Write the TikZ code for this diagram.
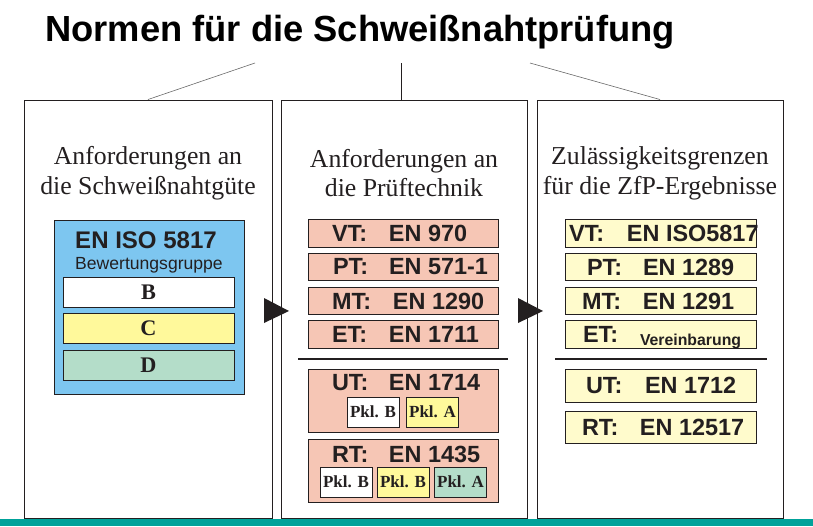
\documentclass[tikz,border=0pt]{standalone}
\usepackage{fontspec}
\setmainfont{Liberation Serif}
\setsansfont{Liberation Sans}
\usetikzlibrary{positioning}
\definecolor{inkblack}{HTML}{231F20}
\definecolor{skyblue}{HTML}{7DC6F0}
\definecolor{softyellow}{HTML}{FFF99B}
\definecolor{softgreen}{HTML}{B4DDC9}
\definecolor{salmon}{HTML}{F6C6B5}
\definecolor{cream}{HTML}{FFFBCC}
\definecolor{barteal}{HTML}{00A29A}
\tikzset{
    frame/.style = {draw=inkblack, line width=0.8pt, minimum height=12.54cm, inner sep=0pt},
    heading/.style = {align=center, text=inkblack, font=\rmfamily\fontsize{22}{25.5}\selectfont},
    gradebox/.style = {draw=inkblack, line width=0.7pt, minimum width=5.13cm, minimum height=0.88cm,
        inner sep=0pt, text=inkblack, font=\rmfamily\bfseries\fontsize{19}{22}\selectfont},
    normbox/.style = {draw=inkblack, line width=0.7pt, minimum width=5.7cm, minimum height=0.82cm,
        inner sep=0pt, text=inkblack, font=\sffamily\bfseries\fontsize{20}{24}\selectfont},
    limitbox/.style = {normbox, fill=cream, minimum width=5.73cm},
    pklbox/.style = {draw=inkblack, line width=0.7pt, minimum width=1.56cm, minimum height=0.9cm,
        inner sep=0pt, text=inkblack, font=\rmfamily\bfseries\fontsize{14.5}{17}\selectfont},
    separator/.style = {draw=inkblack, line width=1.3pt},
}
% box width, label offset, label width, label, norm
\newcommand{\normline}[5]{\makebox[#1][l]{\hspace*{#2}\makebox[#3][l]{#4}#5}}
\newcommand{\pkl}[1]{\raisebox{-2pt}{Pkl. #1}}

\begin{document}
\begin{tikzpicture}[x=0.03cm, y=-0.03cm]
    \useasboundingbox (0,0) rectangle (813,526);

    \node[anchor=base, text=black, font=\sffamily\bfseries\fontsize{31}{36}\selectfont] (title) at (360,41)
        {Normen für die Schweißnahtprüfung};

    % three columns
    \node[frame, minimum width=7.44cm] (quality) at (148,309) {};
    \node[frame, minimum width=7.38cm] (technique) at (404,309) {};
    \node[frame, minimum width=7.38cm] (limits) at (660,309) {};

    \coordinate (tl) at (255,63);
    \coordinate (tm) at (401,63);
    \coordinate (tr) at (530,63);
    \draw[gray!80!black, line width=0.5pt] (tl) -- (quality.north);
    \draw[inkblack, line width=0.5pt] (tm) -- (tm |- technique.north);
    \draw[gray!80!black, line width=0.5pt] (tr) -- (limits.north);

    \node[heading] (quality head) at (148,173) {Anforderungen an\\die Schweißnahtgüte};
    \node[heading] (technique head) at (404,173) {Anforderungen an\\die Prüftechnik};
    \node[heading] (limits head) at (660,173) {Zulässigkeitsgrenzen\\für die ZfP-Ergebnisse};

    % left column
    \node[draw=inkblack, line width=0.7pt, fill=skyblue, minimum width=5.7cm, minimum height=5.22cm] (iso) at (149,307) {};
    \node[text=inkblack, font=\sffamily\bfseries\fontsize{20.5}{24}\selectfont] (iso name) at (146,240) {EN ISO 5817};
    \node[text=inkblack, font=\sffamily\fontsize{15}{18}\selectfont] (iso sub) at (149,265) {Bewertungsgruppe};
    \node[gradebox, fill=white] (grade b) at (148.5,292.5) {B};
    \node[gradebox, fill=softyellow] (grade c) at (148.5,328.5) {C};
    \node[gradebox, fill=softgreen] (grade d) at (148.5,365.5) {D};

    \fill[inkblack] (264,298) -- (289,311) -- (264,323) -- cycle;
    \fill[inkblack] (518,298) -- (543,311) -- (518,323) -- cycle;

    % middle column
    \node[normbox, fill=salmon] (vt) at (403,233.5) {\normline{5.7cm}{0.72cm}{1.71cm}{VT:}{EN 970}};
    \node[normbox, fill=salmon] (pt) at (403,267) {\normline{5.7cm}{0.75cm}{1.68cm}{PT:}{EN 571-1}};
    \node[normbox, fill=salmon] (mt) at (403,301) {\normline{5.7cm}{0.72cm}{1.83cm}{MT:}{EN 1290}};
    \node[normbox, fill=salmon] (et) at (403,334.5) {\normline{5.7cm}{0.72cm}{1.71cm}{ET:}{EN 1711}};
    \draw[separator] (298,359) -- (508,359);
    \node[normbox, fill=salmon, minimum height=1.89cm] (ut) at (403,400.5) {};
    \node[normbox, draw=none] (ut text) at (403,383) {\normline{5.7cm}{0.72cm}{1.71cm}{UT:}{EN 1714}};
    \node[pklbox, fill=white] (ut b) at (373,412) {\pkl{B}};
    \node[pklbox, fill=softyellow] (ut a) at (432.5,412) {\pkl{A}};
    \node[normbox, fill=salmon, minimum height=1.89cm] (rt) at (403,470.5) {};
    \node[normbox, draw=none] (rt text) at (403,454) {\normline{5.7cm}{0.72cm}{1.71cm}{RT:}{EN 1435}};
    \node[pklbox, fill=white] (rt b1) at (346,482) {\pkl{B}};
    \node[pklbox, fill=softyellow] (rt b2) at (403,482) {\pkl{B}};
    \node[pklbox, fill=softgreen] (rt a) at (460.5,482) {\pkl{A}};

    % right column
    \node[limitbox] (vt lim) at (660.5,233.5) {\normline{5.73cm}{0.12cm}{1.74cm}{VT:}{EN ISO5817}};
    \node[limitbox] (pt lim) at (660.5,267) {\normline{5.73cm}{0.66cm}{1.68cm}{PT:}{EN 1289}};
    \node[limitbox] (mt lim) at (660.5,301) {\normline{5.73cm}{0.51cm}{1.83cm}{MT:}{EN 1291}};
    \node[limitbox] (et lim) at (660.5,334.5) {\normline{5.73cm}{0.54cm}{1.71cm}{ET:}{\raisebox{-0.1cm}[0pt][0pt]{\fontsize{13.5}{16}\selectfont Vereinbarung}}};
    \draw[separator] (555,359) -- (767,359);
    \node[limitbox, minimum height=0.99cm] (ut lim) at (660.5,385.5) {\normline{5.73cm}{0.63cm}{1.77cm}{UT:}{EN 1712}};
    \node[limitbox, minimum height=0.96cm] (rt lim) at (660.5,427) {\normline{5.73cm}{0.51cm}{1.74cm}{RT:}{EN 12517}};

    \fill[barteal] (0,519) rectangle (813,526);
\end{tikzpicture}
\end{document}
